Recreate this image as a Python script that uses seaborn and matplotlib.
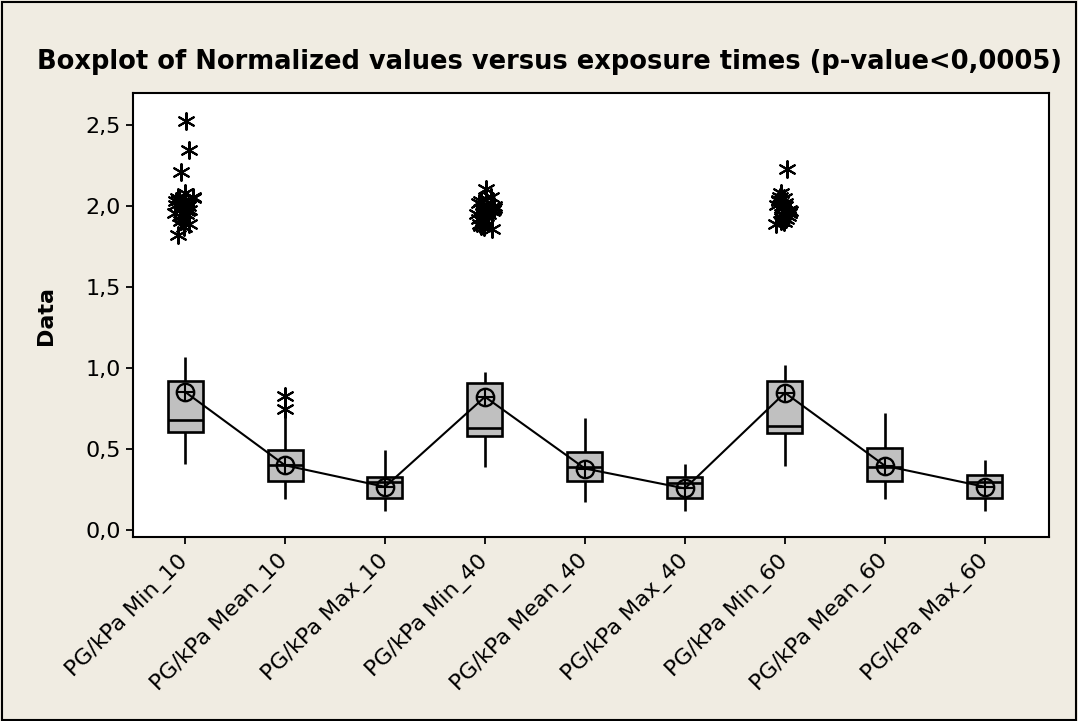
import numpy as np
import pandas as pd
import matplotlib
matplotlib.use("Agg")
import matplotlib.pyplot as plt
import seaborn as sns
from matplotlib.patches import Rectangle

groups = ["PG/kPa Min_10", "PG/kPa Mean_10", "PG/kPa Max_10",
          "PG/kPa Min_40", "PG/kPa Mean_40", "PG/kPa Max_40",
          "PG/kPa Min_60", "PG/kPa Mean_60", "PG/kPa Max_60"]

# box statistics
whisk_lo = [0.41, 0.19, 0.12, 0.39, 0.175, 0.12, 0.395, 0.19, 0.12]
q1 = [0.607, 0.304, 0.199, 0.582, 0.304, 0.199, 0.597, 0.304, 0.199]
median = [0.68, 0.40, 0.298, 0.628, 0.387, 0.288, 0.642, 0.391, 0.294]
q3 = [0.92, 0.494, 0.329, 0.909, 0.48, 0.329, 0.922, 0.504, 0.34]
whisk_hi = [1.07, 0.72, 0.494, 0.977, 0.69, 0.41, 1.019, 0.724, 0.432]
means = [0.854, 0.40, 0.267, 0.823, 0.38, 0.257, 0.848, 0.397, 0.267]

# outliers
out_min10 = [2.53, 2.35, 2.21, 2.08, 2.06, 2.05, 2.05, 2.04, 2.03, 2.02, 2.01, 2.00,
             2.00, 1.99, 1.98, 1.97, 1.96, 1.95, 1.94, 1.93, 1.91, 1.89, 1.87, 1.82]
out_mean10 = [0.83, 0.75]
out_min40 = [2.11, 2.06, 2.03, 2.02, 2.01, 2.00, 1.99, 1.98, 1.98, 1.97, 1.96, 1.95,
             1.95, 1.94, 1.93, 1.92, 1.91, 1.90, 1.89, 1.88, 1.87, 1.86]
out_min60 = [2.23, 2.08, 2.06, 2.05, 2.04, 2.03, 2.02, 2.01, 2.00, 1.99, 1.98, 1.97,
             1.96, 1.96, 1.95, 1.94, 1.93, 1.92, 1.91, 1.90, 1.89]

rows = []
for i, g in enumerate(groups):
    for v in [whisk_lo[i], q1[i], median[i], q3[i], whisk_hi[i]]:
        rows.append((g, v))
df = pd.DataFrame(rows, columns=["group", "value"])

out_rows = [(groups[0], v) for v in out_min10] + [(groups[3], v) for v in out_min40] \
    + [(groups[6], v) for v in out_min60]
df_out = pd.DataFrame(out_rows, columns=["group", "value"])
df_out2 = pd.DataFrame([(groups[1], v) for v in out_mean10], columns=["group", "value"])

sns.set_style("ticks")
plt.rcParams["font.family"] = ["DejaVu Sans"]
plt.rcParams["text.color"] = "black"
plt.rcParams["xtick.color"] = "black"
plt.rcParams["ytick.color"] = "black"
np.random.seed(3)

fig = plt.figure(figsize=(10.78, 7.21), dpi=100)
fig.patch.set_facecolor("#F0ECE2")
fig.patches.append(Rectangle((0.002, 0.002), 0.996, 0.995, transform=fig.transFigure,
                             fill=False, edgecolor="black", linewidth=1.5))
ax = fig.add_axes([0.1234, 0.2552, 0.8496, 0.6158])
ax.set_facecolor("white")

sns.boxplot(data=df, x="group", y="value", order=groups, whis=(0, 100), showfliers=False,
            showcaps=False, color="#C0C0C0", linecolor="black", linewidth=1.9, width=0.35,
            saturation=1, ax=ax)
sns.stripplot(data=df_out, x="group", y="value", order=groups, jitter=0.1, marker=(6, 2, 0),
              color="black", edgecolor="black", size=12, linewidth=1.5, ax=ax)
sns.stripplot(data=df_out2, x="group", y="value", order=groups, jitter=False, marker=(6, 2, 0),
              color="black", edgecolor="black", size=12, linewidth=1.5, ax=ax)
sns.pointplot(x=groups, y=means, order=groups, color="black", errorbar=None, markers="o",
              markersize=12.5, markerfacecolor="none", markeredgewidth=1.7, linewidth=1.5, ax=ax)
sns.pointplot(x=groups, y=means, order=groups, color="black", errorbar=None, markers="+",
              linestyles="none", markersize=12.5, markeredgewidth=1.5, ax=ax)

ax.set_xlim(-0.52, 8.64)
ax.set_ylim(-0.043, 2.70)
ax.set_yticks([0, 0.5, 1.0, 1.5, 2.0, 2.5])
ax.set_yticklabels(["0,0", "0,5", "1,0", "1,5", "2,0", "2,5"], fontsize=16)
ax.set_xticks(range(len(groups)))
ax.set_xticklabels(groups, rotation=45, ha="right", va="center", rotation_mode="anchor",
                   fontsize=16)
ax.tick_params(axis="both", direction="out", length=5, width=1.3, color="black", pad=4)
ax.tick_params(axis="x", pad=10)
ax.set_xlabel("")
ax.set_ylabel("")
for s in ax.spines.values():
    s.set_visible(True)
    s.set_color("black")
    s.set_linewidth(1.5)

fig.text(0.51, 0.914, "Boxplot of Normalized values versus exposure times (p-value<0,0005)",
         ha="center", va="center", fontsize=18.5, fontweight="bold")
fig.text(0.043, 0.563, "Data", rotation=90, ha="center", va="center", fontsize=16,
         fontweight="bold")

fig.savefig("out.png", dpi=100, facecolor=fig.get_facecolor())
